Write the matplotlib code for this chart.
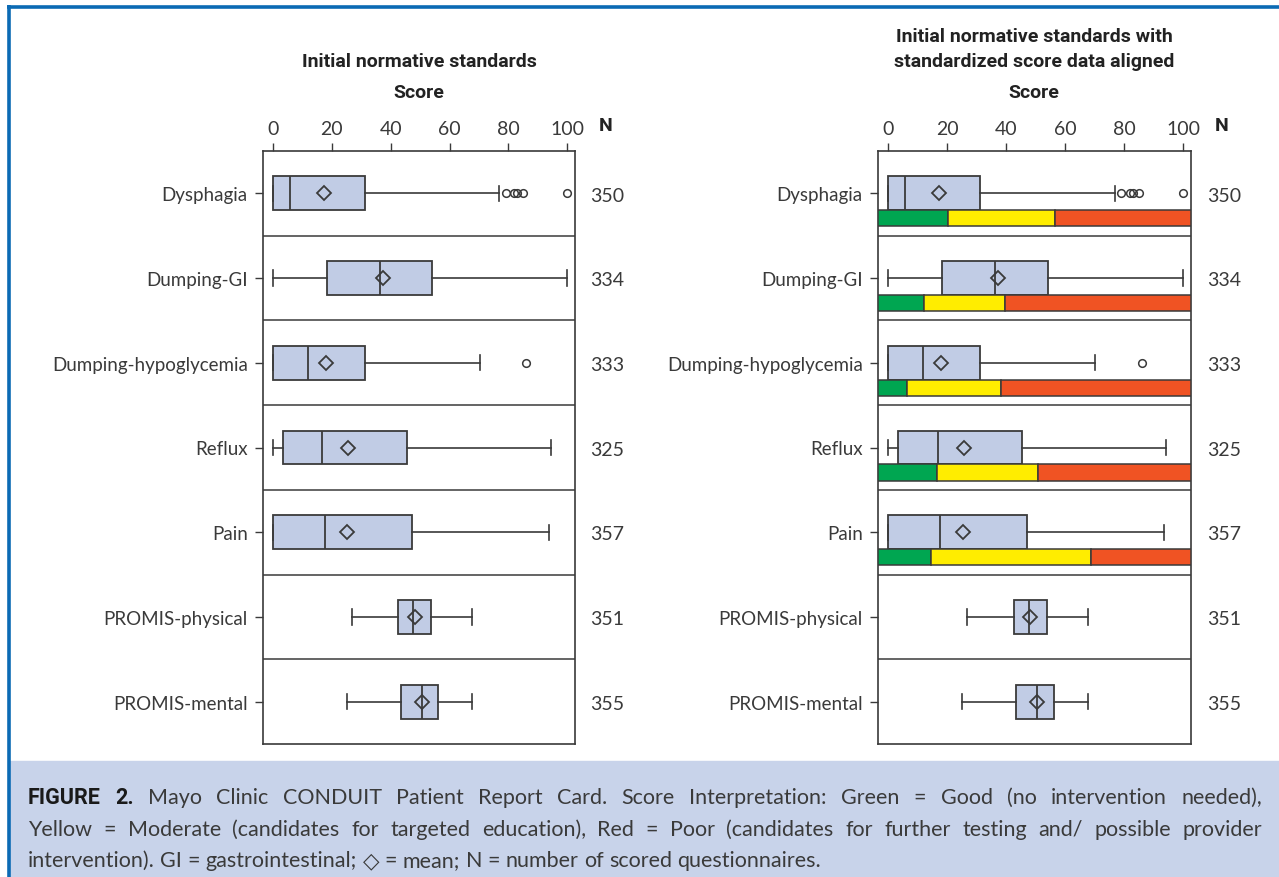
import matplotlib
matplotlib.use("Agg")
from matplotlib import pyplot as plt
from matplotlib.lines import Line2D
from matplotlib.patches import Rectangle

# Dados (escala 0-100)
categorias = ["Dysphagia", "Dumping-GI", "Dumping-hypoglycemia", "Reflux",
              "Pain", "PROMIS-physical", "PROMIS-mental"]
n_questionarios = [350, 334, 333, 325, 357, 351, 355]
whisker_min = [0, 0, 0, 0, 0, 26.8, 25.2]
q1 = [0, 18.2, 0, 3.4, 0, 42.5, 43.5]
mediana = [5.9, 36.2, 11.8, 16.8, 17.5, 47.6, 50.6]
media = [17.4, 37.4, 18.0, 25.6, 25.3, 48.1, 50.6]
q3 = [31.3, 54.1, 31.1, 45.5, 47.1, 53.8, 56.2]
whisker_max = [76.7, 100, 70.2, 94.3, 93.6, 67.6, 67.7]
outliers = [[79, 82, 83, 85, 100], [], [86], [], [], [], []]

# Faixas de interpretacao (verde -> amarelo -> vermelho), so para os 5 primeiros
limite_verde = [20.2, 12.3, 6.4, 16.6, 14.4]
limite_amarelo = [56.5, 39.5, 38.4, 50.9, 68.9]

ticks_score = [0, 20, 40, 60, 80, 100]

linhas_legenda = [
    "FIGURE 2. Mayo Clinic CONDUIT Patient Report Card. Score Interpretation: Green = Good (no intervention needed),",
    "Yellow = Moderate (candidates for targeted education), Red = Poor (candidates for further testing and/ possible provider",
    "intervention). GI = gastrointestinal; \u25c7 = mean; N = number of scored questionnaires.",
]

cor_caixa = "#c1cce5"
cor_linha = "#3a3a3a"
cor_texto = "#3a3a3a"
cores_faixa = ["#00a651", "#ffed00", "#f05323"]

plt.rcParams["font.family"] = ["Lato", "DejaVu Sans"]

W, H = 1279, 878
fig = plt.figure(figsize=(W / 100, H / 100), dpi=100)


def px(x, y):
    return x / W, 1 - y / H


# Fundo da legenda e borda azul
fig.patches.append(Rectangle((10 / W, 0), 1 - 10 / W, 1 - 762 / H,
                             transform=fig.transFigure, color="#c8d3ea", zorder=0))
fig.lines.append(Line2D([8.5 / W, 8.5 / W], [0, 1 - 6 / H], transform=fig.transFigure,
                        color="#0b6ab4", lw=2.6, solid_capstyle="butt"))
fig.lines.append(Line2D([7 / W, 1], [1 - 7.5 / H, 1 - 7.5 / H], transform=fig.transFigure,
                        color="#0b6ab4", lw=2.6, solid_capstyle="butt"))

estatisticas = []
for i in range(len(categorias)):
    estatisticas.append({"whislo": whisker_min[i], "q1": q1[i], "med": mediana[i],
                         "q3": q3[i], "whishi": whisker_max[i], "mean": media[i],
                         "fliers": outliers[i]})

xlim = (-3.4, 102.6)


def desenha_painel(ax, com_faixas):
    ax.bxp(estatisticas, positions=list(range(len(categorias))), widths=0.4,
           capwidths=0.18, orientation="horizontal", patch_artist=True, showmeans=True,
           boxprops=dict(facecolor=cor_caixa, edgecolor=cor_linha, linewidth=1.3),
           medianprops=dict(color=cor_linha, linewidth=1.3),
           whiskerprops=dict(color=cor_linha, linewidth=1.2),
           capprops=dict(color=cor_linha, linewidth=1.2),
           meanprops=dict(marker="D", markerfacecolor="none", markeredgecolor=cor_linha,
                          markersize=7.5, markeredgewidth=1.3),
           flierprops=dict(marker="o", markerfacecolor="none", markeredgecolor=cor_linha,
                           markersize=5.5, markeredgewidth=1.1))
    ax.set_xlim(*xlim)
    ax.set_ylim(len(categorias) - 0.5, -0.5)

    if com_faixas:
        for i, (g, a) in enumerate(zip(limite_verde, limite_amarelo)):
            ax.barh(i + 0.295, [g - xlim[0], a - g, xlim[1] - a], left=[xlim[0], g, a],
                    height=0.19, color=cores_faixa, edgecolor=cor_linha, linewidth=1.1, zorder=3)

    # Linhas separando as linhas da tabela
    for i in range(len(categorias) - 1):
        ax.axhline(i + 0.5, color=cor_linha, lw=1.1)

    for s in ax.spines.values():
        s.set_color(cor_linha)
        s.set_linewidth(1.2)

    ax.set_yticks(range(len(categorias)))
    ax.set_yticklabels(categorias)
    ax.set_xticks(ticks_score)
    ax.set_xticklabels([str(t) for t in ticks_score])
    ax.tick_params(axis="x", top=True, bottom=False, labeltop=True, labelbottom=False,
                   length=6, width=1, color=cor_linha, labelsize=14, labelcolor=cor_texto, pad=4)
    ax.tick_params(axis="y", left=True, length=6, width=1, color=cor_linha,
                   labelsize=13.5, labelcolor=cor_texto, pad=5)

    # Coluna N
    ax.text(1.075, 1.044, "N", transform=ax.transAxes, ha="left", va="center",
            fontsize=14, fontweight="bold", family="Roboto", color="#222222")
    for i, n in enumerate(n_questionarios):
        ax.text(1.05, i + 0.02, str(n), transform=ax.get_yaxis_transform(), ha="left",
                va="center", fontsize=14, color=cor_texto)


ax1 = fig.add_axes([263 / W, 1 - 745 / H, 312 / W, 593 / H])
desenha_painel(ax1, False)
ax2 = fig.add_axes([878 / W, 1 - 745 / H, 313 / W, 593 / H])
desenha_painel(ax2, True)

# Titulos
estilo_titulo = dict(ha="center", va="center", fontsize=14, fontweight="bold",
                     family="Roboto", color="#222222")
fig.text(*px(419, 62), "Initial normative standards", **estilo_titulo)
fig.text(*px(419, 93), "Score", **estilo_titulo)
fig.text(*px(1034, 37), "Initial normative standards with", **estilo_titulo)
fig.text(*px(1034, 62), "standardized score data aligned", **estilo_titulo)
fig.text(*px(1034, 93), "Score", **estilo_titulo)

# Legenda justificada
fig.canvas.draw()
renderer = fig.canvas.get_renderer()
x_esq, x_dir = 28, 1262
bases = [804, 836, 867]
for k, linha in enumerate(linhas_legenda):
    palavras = linha.split(" ")
    textos = []
    for j, p in enumerate(palavras):
        if k == 0 and j < 2:
            t = fig.text(0, 0, p, fontsize=15.5, fontweight="bold", family="Roboto",
                         color="#1a1a1a", va="baseline")
        else:
            t = fig.text(0, 0, p, fontsize=15.5, color=cor_texto, va="baseline")
        textos.append(t)
    larguras = [t.get_window_extent(renderer).width for t in textos]
    if k < len(linhas_legenda) - 1:
        espaco = (x_dir - x_esq - sum(larguras)) / (len(textos) - 1)
    else:
        espaco = 5.5
    x = x_esq
    for t, lw in zip(textos, larguras):
        t.set_position(px(x, bases[k]))
        x += lw + espaco

fig.savefig("out.png", dpi=100)
